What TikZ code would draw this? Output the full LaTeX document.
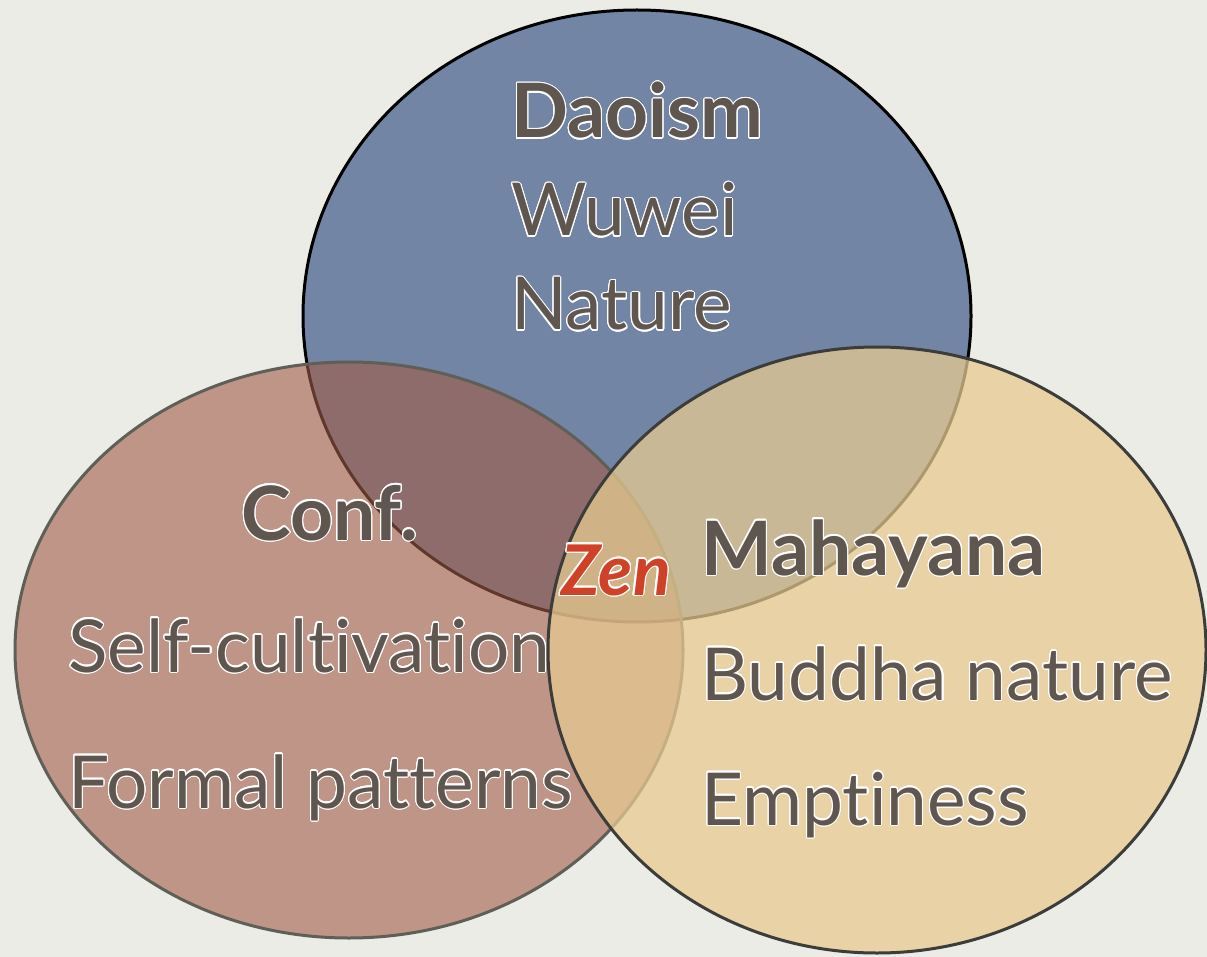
\documentclass[tikz,border=0pt]{standalone}
\usepackage{fontspec}
\setmainfont{Lato}[Ligatures={NoCommon}]
\usepackage[copies]{contour}
\contourlength{1.1pt}
\contournumber{24}
\definecolor{bg}{RGB}{236,236,230}
\definecolor{daoblue}{RGB}{115,133,165}
\definecolor{confred}{RGB}{160,92,70}
\definecolor{mahatan}{RGB}{231,202,145}
\definecolor{txt}{RGB}{95,86,80}
\definecolor{zenred}{RGB}{208,66,40}
\definecolor{confline}{RGB}{95,95,88}
\definecolor{mahaline}{RGB}{60,60,58}
\tikzset{
  lbl/.style={anchor=base west, inner sep=0pt, text=txt, font=\fontsize{73}{75}\selectfont},
  head/.style={lbl, font=\fontsize{75}{77}\selectfont\bfseries},
}
\newcommand{\glow}[1]{\contour{white}{#1}}
\begin{document}
\begin{tikzpicture}[x=1pt,y=-1pt]
\fill[bg] (0,0) rectangle (1207,957);
\useasboundingbox (0,0) rectangle (1207,957);
% Daoism
\fill[daoblue] (637,316) ellipse [x radius=334, y radius=306];
\draw[black, line width=3pt] (637,316) ellipse [x radius=334, y radius=306];
% Confucianism
\fill[confred, fill opacity=0.6] (349,650) ellipse [x radius=334, y radius=288];
\draw[confline, line width=3pt] (349,650) ellipse [x radius=334, y radius=288];
% Mahayana
\fill[mahatan, fill opacity=0.75] (877,650) ellipse [x radius=329, y radius=303];
\draw[mahaline, line width=3pt] (877,650) ellipse [x radius=329, y radius=303];
% texts
\node[head] (dao) at (511,138) {\glow{Daoism}};
\node[lbl] (wu) at (511,236) {\glow{Wuwei}};
\node[lbl] (nat) at (511,330) {\glow{Nature}};
\node[head] (conf) at (241,540) {\glow{Conf.}};
\node[lbl] (self) at (68,672) {\glow{Self-cultivation}};
\node[lbl] (form) at (68,808) {\glow{Formal patterns}};
\node[head] (maha) at (701,575) {\glow{Mahayana}};
\node[lbl] (bud) at (701,700) {\glow{Buddha nature}};
\node[lbl] (emp) at (701,825) {\glow{Emptiness}};
\node[anchor=base west, inner sep=0pt, text=zenred, font=\fontsize{70}{72}\selectfont\bfseries\itshape] (zen) at (561,595) {\glow{Zen}};
\end{tikzpicture}
\end{document}
